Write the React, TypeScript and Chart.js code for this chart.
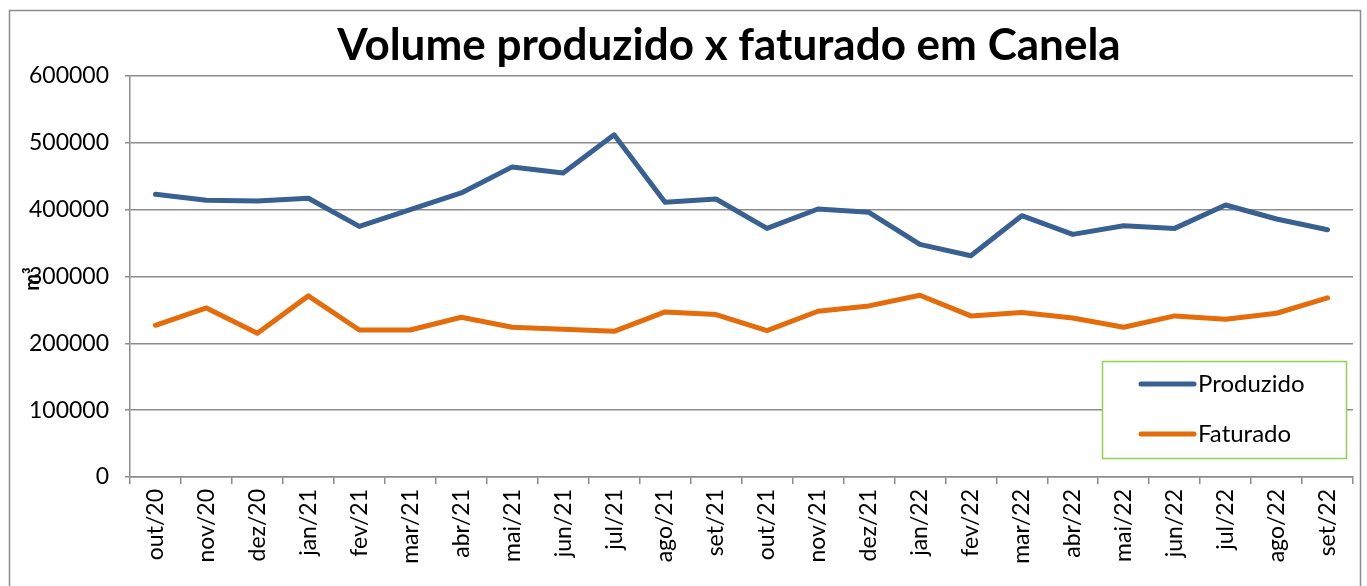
import React, { useEffect, useRef } from "react";
import { Chart, registerables } from "chart.js";

Chart.register(...registerables);

const categories = [
  "out/20", "nov/20", "dez/20", "jan/21", "fev/21", "mar/21", "abr/21", "mai/21",
  "jun/21", "jul/21", "ago/21", "set/21", "out/21", "nov/21", "dez/21", "jan/22",
  "fev/22", "mar/22", "abr/22", "mai/22", "jun/22", "jul/22", "ago/22", "set/22",
];

const produzido = [
  423000, 414000, 413000, 417000, 375000, 400000, 425000, 464000,
  455000, 512000, 411000, 416000, 372000, 401000, 396000, 348000,
  331000, 391000, 363000, 376000, 372000, 407000, 386000, 370000,
];

const faturado = [
  227000, 253000, 215000, 271000, 220000, 220000, 239000, 224000,
  221000, 218000, 247000, 243000, 219000, 248000, 256000, 272000,
  241000, 246000, 238000, 224000, 241000, 236000, 245000, 268000,
];

const seriesNames = ["Produzido", "Faturado"];
const seriesColors = ["#386192", "#E46C0A"];
const chartTitle = "Volume produzido x faturado em Canela";
const yTitle = "m³";
const yMax = 600000;
const yStep = 100000;

const FONT = "Lato, 'Open Sans', sans-serif";

const decorPlugin = {
  id: "decor",
  beforeDraw(chart: any) {
    const ctx = chart.ctx;
    ctx.save();
    ctx.fillStyle = "#ffffff";
    ctx.fillRect(0, 0, chart.width, chart.height);
    ctx.strokeStyle = "#8c8c8c";
    ctx.lineWidth = 1.5;
    ctx.strokeRect(9.5, 10.5, 1351, 620);
    ctx.restore();
  },
  afterDraw(chart: any) {
    const ctx = chart.ctx;
    ctx.save();
    // title
    ctx.fillStyle = "#000000";
    ctx.font = `bold 44px ${FONT}`;
    ctx.textAlign = "center";
    ctx.textBaseline = "middle";
    ctx.fillText(chartTitle, 729, 46);
    // y title
    ctx.save();
    ctx.translate(33, 279);
    ctx.rotate(-Math.PI / 2);
    ctx.font = `bold 20px ${FONT}`;
    ctx.fillText(yTitle, 0, 0);
    ctx.restore();
    // legend
    ctx.fillStyle = "#ffffff";
    ctx.fillRect(1102, 361, 244, 97);
    ctx.strokeStyle = "#92D050";
    ctx.lineWidth = 1.5;
    ctx.strokeRect(1102.5, 361.5, 244, 97);
    const rows = [384, 434];
    seriesNames.forEach((name, i) => {
      ctx.strokeStyle = seriesColors[i];
      ctx.lineWidth = 5;
      ctx.lineCap = "round";
      ctx.beginPath();
      ctx.moveTo(1141, rows[i]);
      ctx.lineTo(1194, rows[i]);
      ctx.stroke();
      ctx.fillStyle = "#000000";
      ctx.font = `24px ${FONT}`;
      ctx.textAlign = "left";
      ctx.textBaseline = "middle";
      ctx.fillText(name, 1198, rows[i]);
    });
    ctx.restore();
  },
};

export default function App() {
  const ref = useRef<HTMLCanvasElement | null>(null);

  useEffect(() => {
    if (!ref.current) return;
    const chart = new Chart(ref.current, {
      type: "line",
      data: {
        labels: categories,
        datasets: [
          {
            label: seriesNames[0],
            data: produzido,
            borderColor: seriesColors[0],
            backgroundColor: seriesColors[0],
            borderWidth: 5,
            pointRadius: 0,
            tension: 0,
            borderCapStyle: "round",
            borderJoinStyle: "round",
          },
          {
            label: seriesNames[1],
            data: faturado,
            borderColor: seriesColors[1],
            backgroundColor: seriesColors[1],
            borderWidth: 5,
            pointRadius: 0,
            tension: 0,
            borderCapStyle: "round",
            borderJoinStyle: "round",
          },
        ],
      },
      options: {
        responsive: false,
        animation: false,
        layout: { padding: { left: 0, top: 76, right: 14, bottom: 0 } },
        plugins: {
          legend: { display: false },
          title: { display: false },
          tooltip: { enabled: false },
        },
        scales: {
          x: {
            offset: true,
            grid: {
              offset: true,
              drawOnChartArea: false,
              drawTicks: true,
              tickLength: 7,
              color: "#8c8c8c",
              lineWidth: 1.5,
            },
            border: { color: "#8c8c8c", width: 1.5 },
            ticks: {
              color: "#000000",
              font: { family: FONT, size: 23 },
              minRotation: 90,
              maxRotation: 90,
              autoSkip: false,
              padding: 5,
            },
            afterFit(scale: any) {
              scale.height = 109;
            },
          },
          y: {
            min: 0,
            max: yMax,
            ticks: {
              stepSize: yStep,
              color: "#000000",
              font: { family: FONT, size: 23 },
              padding: 16,
              callback: (v: any) => String(v),
            },
            grid: {
              color: "#8c8c8c",
              lineWidth: 1.5,
              tickLength: 5,
            },
            border: { color: "#8c8c8c", width: 1.5 },
            afterFit(scale: any) {
              scale.width = 130;
            },
          },
        },
      },
      plugins: [decorPlugin],
    });
    return () => chart.destroy();
  }, []);

  return (
    <div style={{ position: "fixed", left: 0, top: 0, width: 1367, height: 586 }}>
      <canvas ref={ref} width={1367} height={586} style={{ width: 1367, height: 586 }} />
    </div>
  );
}
